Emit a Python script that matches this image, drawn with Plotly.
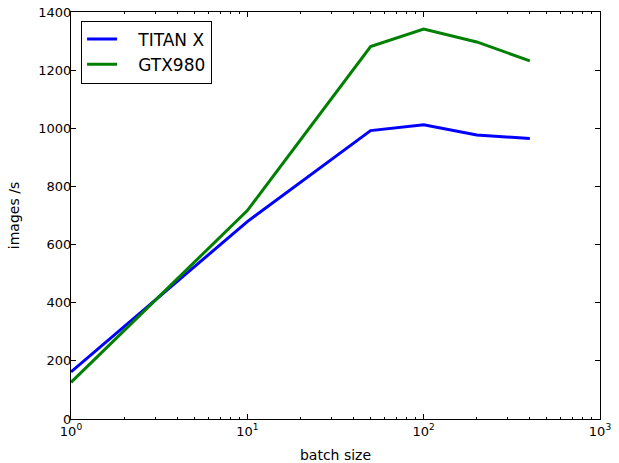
import plotly.graph_objects as go

batch = [1, 10, 50, 100, 200, 400]
titan_x = [162, 679, 992, 1012, 977, 965]
gtx980 = [126, 717, 1281, 1341, 1297, 1232]

x_tickvals = [1, 10, 100, 1000]
x_ticktext = ["10<sup>0</sup>", "10<sup>1</sup>", "10<sup>2</sup>", "10<sup>3</sup>"]
x_minor = [m * d for d in (1, 10, 100) for m in range(2, 10)]
y_tickvals = [0, 200, 400, 600, 800, 1000, 1200, 1400]

pad = "\u00a0\u00a0\u00a0"
fig = go.Figure()
fig.add_trace(go.Scatter(x=batch, y=titan_x, mode="lines", name=pad + "TITAN X",
                         line=dict(color="#0000ff", width=3)))
fig.add_trace(go.Scatter(x=batch, y=gtx980, mode="lines", name=pad + "GTX980",
                         line=dict(color="#008000", width=3)))

axis_common = dict(showline=True, linecolor="black", linewidth=1, mirror="ticks",
                   ticks="inside", ticklen=5, tickcolor="black", showgrid=False,
                   zeroline=False, automargin=False, ticklabeloverflow="allow",
                   tickfont=dict(size=13, color="black"))

fig.update_xaxes(type="log", range=[0, 3], tickvals=x_tickvals, ticktext=x_ticktext,
                 title=dict(text="batch size", font=dict(size=14, color="black")),
                 minor=dict(tickmode="array", tickvals=x_minor, ticks="inside", ticklen=2,
                            tickcolor="black", showgrid=False),
                 **axis_common)
fig.update_yaxes(range=[0, 1400], tickvals=y_tickvals, ticklabelstandoff=-4,
                 title=dict(text="images /s", font=dict(size=14, color="black")),
                 **axis_common)

fig.update_layout(
    width=619, height=463,
    margin=dict(l=71, r=19, t=12, b=44),
    paper_bgcolor="white", plot_bgcolor="white",
    font=dict(family="DejaVu Sans", size=13, color="black"),
    legend=dict(x=0.019, y=0.979, xanchor="left", yanchor="top",
                bordercolor="black", borderwidth=1, bgcolor="white",
                font=dict(size=17)),
)

fig.write_html("out.html", config={"displayModeBar": False},
               post_script="document.body.style.margin='0px';")
